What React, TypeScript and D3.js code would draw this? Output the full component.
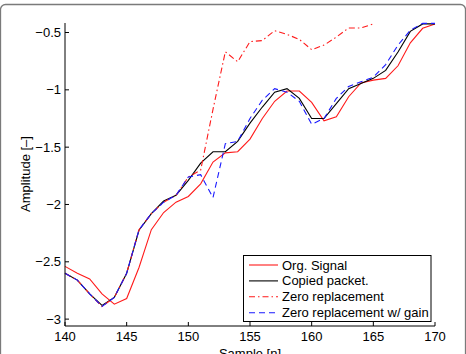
import * as d3 from "d3";

// sample index n = 140..170
const samples = d3.range(140, 171);

const orgSignal = [
  -2.54, -2.6, -2.65, -2.78, -2.87, -2.82, -2.55, -2.22, -2.07, -1.98, -1.93,
  -1.82, -1.63, -1.55, -1.54, -1.43, -1.25, -1.1, -1.01, -1.01, -1.11, -1.27,
  -1.235, -1.06, -0.94, -0.915, -0.9, -0.79, -0.59, -0.463, -0.425,
];

const copiedPacket = [
  -2.6, -2.66, -2.78, -2.88, -2.81, -2.6, -2.225, -2.08, -1.97, -1.92, -1.79,
  -1.64, -1.54, -1.54, -1.45, -1.29, -1.15, -1.02, -0.99, -1.075, -1.25, -1.25,
  -1.12, -0.99, -0.945, -0.9, -0.83, -0.67, -0.49, -0.425, -0.425,
];

const zeroGain = [
  -2.6, -2.66, -2.78, -2.89, -2.81, -2.6, -2.22, -2.08, -1.98, -1.92, -1.76,
  -1.74, -1.94, -1.47, -1.45, -1.25, -1.09, -0.99, -1.02, -1.1, -1.3, -1.25,
  -1.075, -0.97, -0.93, -0.89, -0.78, -0.61, -0.48, -0.42, -0.42,
];

// stops at n = 165
const zeroReplacement = [
  -2.6, -2.66, -2.78, -2.89, -2.81, -2.6, -2.22, -2.08, -1.98, -1.92, -1.76,
  -1.7, -1.17, -0.668, -0.755, -0.58, -0.57, -0.484, -0.516, -0.56, -0.65,
  -0.61, -0.54, -0.46, -0.46, -0.425,
];

const xTicks = [140, 145, 150, 155, 160, 165, 170];
const yTicks = [-3, -2.5, -2, -1.5, -1, -0.5];

const series = [
  { name: "Org. Signal", values: orgSignal, color: "#ff1a1a", dash: "" },
  { name: "Copied packet.", values: copiedPacket, color: "#000000", dash: "" },
  { name: "Zero replacement", values: zeroReplacement, color: "#ff1a1a", dash: "6,3,1.5,3" },
  { name: "Zero replacement w/ gain", values: zeroGain, color: "#1a1aff", dash: "6,4" },
];

const fmt = (v: number) => String(v).replace("-", "\u2212");

export default function App() {
  const width = 466;
  const height = 354;
  const x = d3.scaleLinear().domain([140, 170]).range([65, 435]);
  const y = d3.scaleLinear().domain([-3.06, -0.417]).range([326, 23]);

  const line = d3
    .line<number>()
    .x((_, i) => x(samples[i]))
    .y((d) => y(d));

  const font = "Liberation Sans, Arial, Helvetica, sans-serif";
  const [x0, x1] = x.range();
  const [y0, y1] = y.range();

  const legend = { left: 243.5, top: 255.5, w: 187.5, h: 66, row0: 265, step: 15.9 };

  return (
    <svg
      width={width}
      height={height}
      style={{ position: "absolute", left: 0, top: 0, background: "#fff" }}
      fontFamily={font}
      fontSize={13}
    >
      {/* figure frame */}
      <rect x={0.5} y={4.5} width={465} height={380} rx={5} fill="none" stroke="#7a7a7a" strokeWidth={1.3} />

      {series.map((s) => (
        <path
          key={s.name}
          d={line(s.values) ?? ""}
          fill="none"
          stroke={s.color}
          strokeWidth={1.1}
          strokeDasharray={s.dash || undefined}
        />
      ))}

      {/* axes */}
      <line x1={x0} x2={x1} y1={y0} y2={y0} stroke="#000" />
      <line x1={x0} x2={x0} y1={y0} y2={y1} stroke="#000" />
      {xTicks.map((t) => (
        <g key={t} transform={`translate(${x(t)},${y0})`}>
          <line y1={0} y2={-4} stroke="#000" />
          <text y={15} textAnchor="middle">{t}</text>
        </g>
      ))}
      {yTicks.map((t) => (
        <g key={t} transform={`translate(${x0},${y(t)})`}>
          <line x1={0} x2={4} stroke="#000" />
          <text x={-4} dy="0.35em" textAnchor="end">{fmt(t)}</text>
        </g>
      ))}
      <text x={250} y={358} textAnchor="middle">Sample [n]</text>
      <text transform="translate(30,174) rotate(-90)" textAnchor="middle">Amplitude [–]</text>

      {/* legend */}
      <rect x={legend.left} y={legend.top} width={legend.w} height={legend.h} fill="#fff" stroke="#000" />
      {series.map((s, i) => {
        const ly = legend.row0 + i * legend.step;
        return (
          <g key={s.name}>
            <line
              x1={249}
              x2={278}
              y1={ly}
              y2={ly}
              stroke={s.color}
              strokeWidth={1.1}
              strokeDasharray={s.dash || undefined}
            />
            <text x={282} y={ly} dy="0.35em">{s.name}</text>
          </g>
        );
      })}
    </svg>
  );
}
